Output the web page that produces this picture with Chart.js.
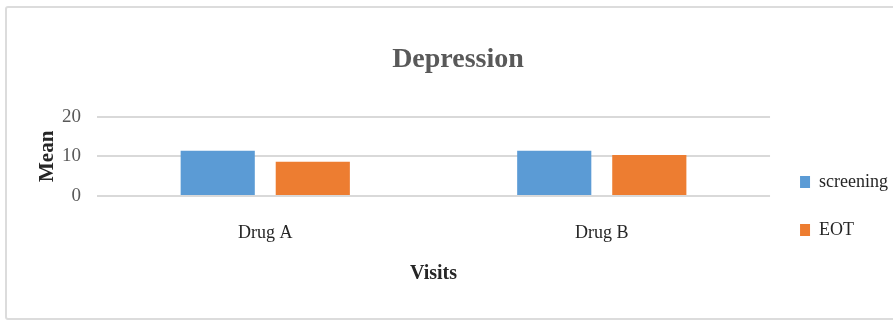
<!DOCTYPE html>
<html>
<head>
<meta charset="utf-8">
<script src="https://cdn.jsdelivr.net/npm/chart.js@4/dist/chart.umd.min.js"></script>
<style>
  html, body { margin: 0; padding: 0; background: #fff; }
  #wrap { position: relative; width: 893px; height: 320px; overflow: hidden; }
  #frame { position: absolute; left: 5px; top: 6px; width: 1000px; height: 310px;
           border: 2px solid #dcdcdc; border-radius: 3px; }
  canvas { position: absolute; left: 0; top: 0; }
</style>
</head>
<body>
<div id="wrap">
  <div id="frame"></div>
  <canvas id="c" width="893" height="320"></canvas>
</div>
<script>
// Mean depression scores per drug, at screening and end of treatment
const categories = ['Drug A', 'Drug B'];
const screening = [11.4, 11.4];
const eot = [8.6, 10.3];
const yTicks = [0, 10, 20];

const serif = '"Liberation Serif", "Times New Roman", serif';
const grey = '#595959';
const dark = '#262626';

// Lower the legend block so it sits level with the axis labels
const legendDrop = {
  id: 'legendDrop',
  afterLayout(chart) {
    const lg = chart.legend;
    if (lg) { lg.top += 63; lg.bottom += 63; }
  }
};

new Chart(document.getElementById('c'), {
  type: 'bar',
  data: {
    labels: categories,
    datasets: [
      { label: 'screening', data: screening, backgroundColor: '#5B9BD5',
        categoryPercentage: 0.565, barPercentage: 0.78 },
      { label: 'EOT', data: eot, backgroundColor: '#ED7D31',
        categoryPercentage: 0.565, barPercentage: 0.78 }
    ]
  },
  plugins: [legendDrop],
  options: {
    responsive: false,
    animation: false,
    layout: { padding: { left: 18, right: -5, top: 0, bottom: 34 } },
    plugins: {
      title: {
        display: true,
        text: 'Depression',
        color: grey,
        font: { family: serif, size: 28, weight: 'bold' },
        padding: { top: 43, bottom: 40 }
      },
      legend: {
        position: 'right',
        labels: {
          color: dark,
          font: { family: serif, size: 18 },
          boxWidth: 10,
          boxHeight: 12,
          padding: 30
        }
      },
      tooltip: { enabled: false }
    },
    scales: {
      x: {
        grid: { display: false, drawTicks: false },
        border: { display: false },
        ticks: { color: dark, font: { family: serif, size: 18 }, padding: 26 },
        title: {
          display: true, text: 'Visits', color: dark,
          font: { family: serif, size: 20, weight: 'bold' },
          padding: { top: 0, bottom: 0 }
        },
        afterFit: (s) => { s.height = 90; }
      },
      y: {
        min: 0, max: 20,
        afterBuildTicks: (s) => { s.ticks = yTicks.map(v => ({ value: v })); },
        grid: { color: '#d9d9d9', lineWidth: 2, drawTicks: false },
        border: { display: false },
        ticks: { color: grey, font: { family: serif, size: 19 }, padding: 16 },
        title: {
          display: true, text: 'Mean', color: dark,
          font: { family: serif, size: 21, weight: 'bold' },
          padding: { top: 17, bottom: 0 }
        },
        afterFit: (s) => { s.width = 79; }
      }
    }
  }
});
</script>
</body>
</html>
